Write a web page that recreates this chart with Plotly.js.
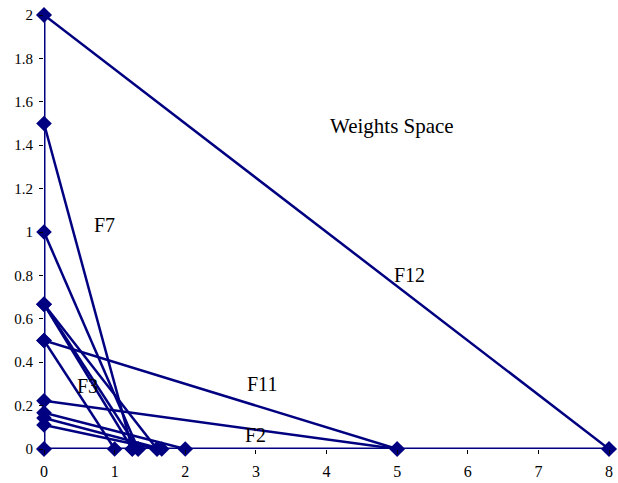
<!DOCTYPE html>
<html>
<head>
<meta charset="utf-8">
<script src="https://cdn.plot.ly/plotly-3.0.1.min.js"></script>
<style>html,body{margin:0;padding:0;background:#fff}#chart{width:618px;height:483px}</style>
</head>
<body>
<div id="chart"></div>
<script>
// Each line joins (0, yIntercept) to (xIntercept, 0)
const lineNames  = ["F12", "F7", "L3", "L4", "L5", "L6", "F11", "F3", "F2", "L10", "L11", "L12"];
const yIntercepts = [2, 1.5, 1, 0.667, 0.667, 0.667, 0.5, 0.5, 0.222, 0.167, 0.143, 0.111];
const xIntercepts = [8, 1.25, 1.333, 1.25, 1.333, 1.6, 5, 1, 5, 2, 1.667, 1.6];
const xTicks = [0, 1, 2, 3, 4, 5, 6, 7, 8];
const yTicks = [0, 0.2, 0.4, 0.6, 0.8, 1, 1.2, 1.4, 1.6, 1.8, 2];
const labelTexts = ["Weights Space", "F7", "F3", "F11", "F2", "F12"];
const labelX = [4.93, 0.86, 0.62, 3.09, 2.99, 5.17];
const labelY = [1.49, 1.03, 0.29, 0.30, 0.065, 0.80];

const navy = "#000080";
const font = "Liberation Serif";

const traces = [];
// axis lines drawn as series (y axis and x axis)
traces.push({x: [0, 0], y: [0, Math.max(...yIntercepts)], mode: "lines+markers",
  line: {color: navy, width: 3}, marker: {symbol: "diamond", size: 12, color: navy},
  cliponaxis: false, showlegend: false, hoverinfo: "skip"});
traces.push({x: [0, Math.max(...xIntercepts)], y: [0, 0], mode: "lines+markers",
  line: {color: navy, width: 3}, marker: {symbol: "diamond", size: 12, color: navy},
  cliponaxis: false, showlegend: false, hoverinfo: "skip"});
for (let i = 0; i < yIntercepts.length; i++) {
  traces.push({
    x: [0, xIntercepts[i]], y: [yIntercepts[i], 0], name: lineNames[i],
    mode: "lines+markers", line: {color: navy, width: 2.5},
    marker: {symbol: "diamond", size: 12, color: navy},
    cliponaxis: false, showlegend: false
  });
}

const annotations = labelTexts.map((t, i) => ({
  x: labelX[i], y: labelY[i], xref: "x", yref: "y", text: t, showarrow: false,
  font: {family: font, size: i === 0 ? 21 : 20, color: "#000"}
}));

const layout = {
  width: 618, height: 483,
  margin: {l: 44, r: 9, t: 15, b: 34},
  paper_bgcolor: "#fff", plot_bgcolor: "#fff",
  showlegend: false,
  font: {family: font, size: 16, color: "#000"},
  xaxis: {range: [0, 8], tickvals: xTicks, ticktext: xTicks.map(String),
    showgrid: false, zeroline: false, showline: false, ticklabelstandoff: 4,
    ticks: "outside", ticklen: 4, tickcolor: "#000", tickfont: {family: font, size: 16, color: "#000"}},
  yaxis: {range: [0, 2], tickvals: yTicks, ticktext: yTicks.map(String),
    showgrid: false, zeroline: false, showline: false, ticklabelstandoff: 3,
    ticks: "outside", ticklen: 4, tickcolor: "#000", tickfont: {family: font, size: 15, color: "#000"}},
  annotations: annotations
};

Plotly.newPlot("chart", traces, layout, {staticPlot: true, displayModeBar: false});
</script>
</body>
</html>
